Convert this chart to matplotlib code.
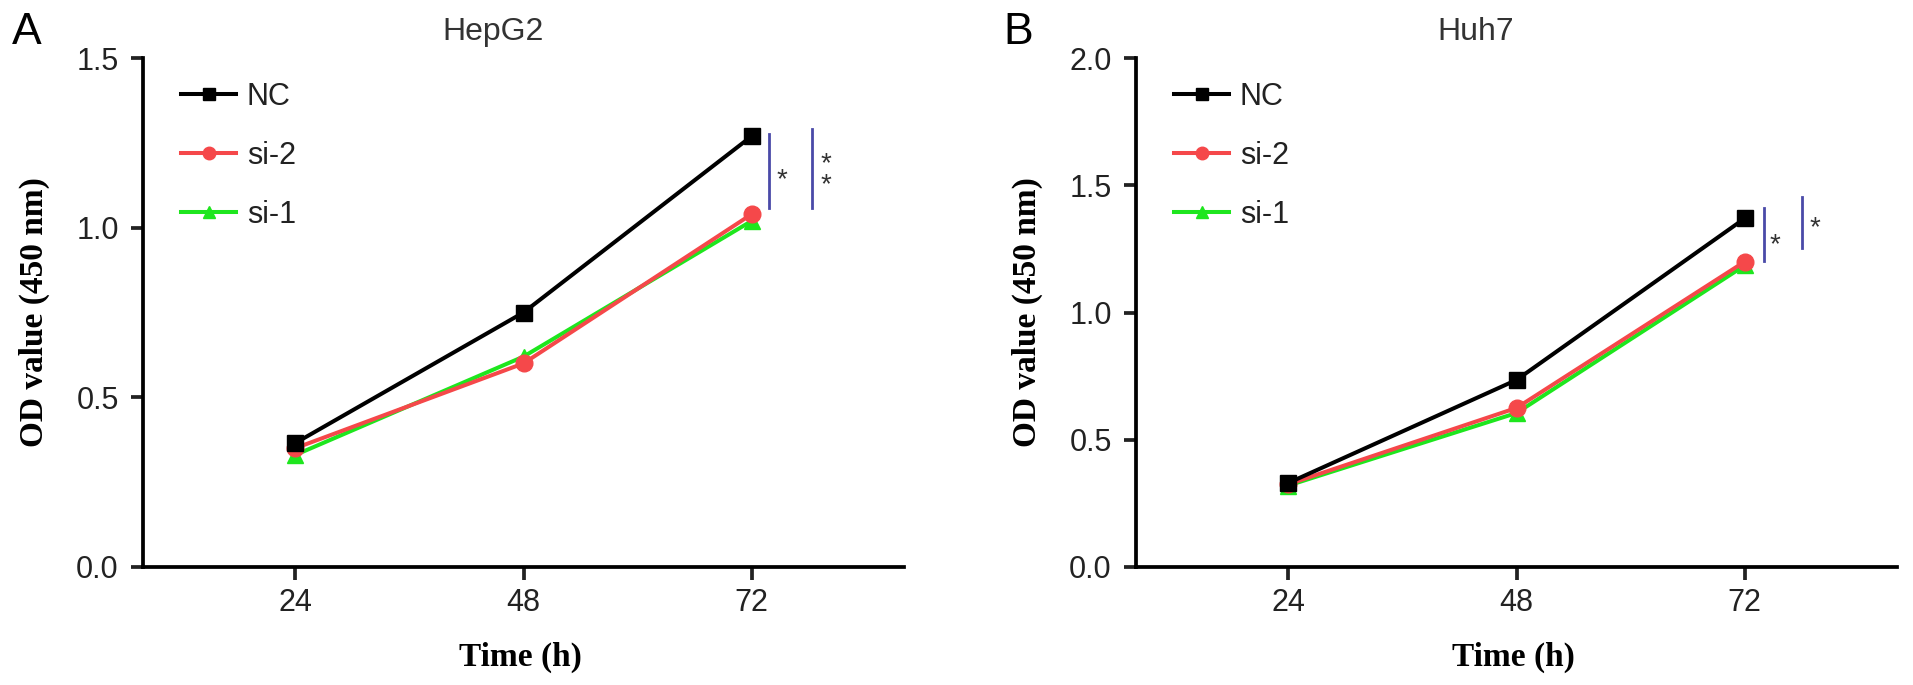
import matplotlib
matplotlib.use("Agg")
import matplotlib.pyplot as plt
from matplotlib.transforms import offset_copy

plt.rcParams['font.family'] = ['Liberation Sans', 'DejaVu Sans']

# time points (h)
hours = [24, 48, 72]

# HepG2
hep_nc = [0.365, 0.75, 1.27]
hep_si2 = [0.35, 0.60, 1.04]
hep_si1 = [0.33, 0.62, 1.02]

# Huh7
huh_nc = [0.33, 0.735, 1.37]
huh_si2 = [0.325, 0.625, 1.20]
huh_si1 = [0.32, 0.605, 1.185]

titles = ["HepG2", "Huh7"]
letters = ["A", "B"]
y_max = [1.5, 2.0]
y_ticks = [[0.0, 0.5, 1.0, 1.5], [0.0, 0.5, 1.0, 1.5, 2.0]]

# significance bars (x, y_low, y_high) and stars (x, y, text)
hep_bars = [(73.8, 1.058, 1.277), (78.3, 1.058, 1.29)]
hep_stars = [(75.2, 1.163, "*"), (79.8, 1.18, "*\n*")]
huh_bars = [(74.05, 1.201, 1.409), (78.0, 1.254, 1.452)]
huh_stars = [(75.2, 1.297, "*"), (79.4, 1.364, "*")]

red = '#f5484a'
green = '#1ee61e'
blue = '#4a4aa8'

fig = plt.figure(figsize=(19.13, 6.85), dpi=100)
lefts = [143 / 1913, 1136 / 1913]
letter_x = [12 / 1913, 1003 / 1913]
title_x = [0.46, 0.446]

panels = [(hep_nc, hep_si2, hep_si1, hep_bars, hep_stars),
          (huh_nc, huh_si2, huh_si1, huh_bars, huh_stars)]

for i, (nc, si2, si1, bars, stars) in enumerate(panels):
    ax = fig.add_axes([lefts[i], 1 - 567 / 685, 761 / 1913, 509 / 685])
    ax.plot(hours, si1, color=green, lw=2.9, marker='^', ms=11, label='si-1', zorder=3)
    ax.plot(hours, si2, color=red, lw=2.9, marker='o', ms=12, label='si-2', zorder=4)
    ax.plot(hours, nc, color='black', lw=2.9, marker='s', ms=11, label='NC', zorder=5)

    ax.set_xlim(8, 88)
    ax.set_ylim(0, y_max[i])
    ax.set_xticks(hours)
    ax.set_yticks(y_ticks[i])
    ax.set_yticklabels(["%.1f" % t for t in y_ticks[i]])
    ax.tick_params(labelsize=22, length=9, width=2.7, pad=8.5, colors='#222222')
    ax.tick_params(axis='x', pad=6)
    for s in ['top', 'right']:
        ax.spines[s].set_visible(False)
    for s in ['left', 'bottom']:
        ax.spines[s].set_linewidth(2.7)

    ax.set_xlabel("Time (h)", family='Liberation Serif', fontweight='bold', fontsize=24)
    ax.set_ylabel("OD value (450 nm)", family='Liberation Serif', fontweight='bold', fontsize=24)
    ax.xaxis.set_label_coords(0.496, -0.146)
    ax.yaxis.set_label_coords(-0.122, 0.5)

    ax.text(title_x[i], 1.052, titles[i], transform=ax.transAxes, ha='center', va='center',
            fontsize=23, color='#333333')
    fig.text(letter_x[i], 1 - 32 / 685, letters[i], ha='left', va='center', fontsize=32)

    handles, labels = ax.get_legend_handles_labels()
    order = [2, 1, 0]
    leg = ax.legend([handles[k] for k in order], [labels[k] for k in order],
                    loc='upper left', bbox_to_anchor=(0.05, 0.953), frameon=False,
                    fontsize=22, handlelength=1.8, handletextpad=0.35, labelspacing=0.95,
                    borderpad=0, borderaxespad=0, markerscale=0.75)
    for t in leg.get_texts():
        t.set_color('#222222')

    for (bx, y0, y1) in bars:
        ax.plot([bx, bx], [y0, y1], color=blue, lw=2, clip_on=False)
    star_tr = offset_copy(ax.transData, fig=fig, y=-6, units='points')
    for (sx, sy, st) in stars:
        ax.text(sx, sy, st, transform=star_tr, ha='center', va='center',
                fontsize=20, color='#333333', linespacing=0.75)

fig.savefig("out.png", dpi=100)
